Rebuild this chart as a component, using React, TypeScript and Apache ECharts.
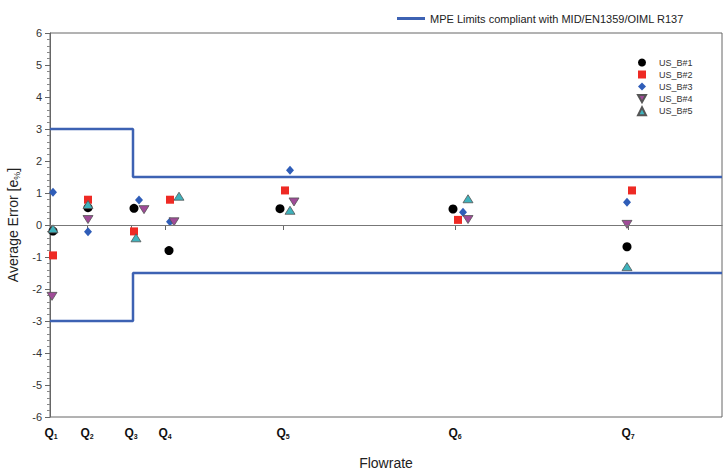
import React, { useEffect, useRef } from "react";
import * as echarts from "echarts";

// Flowrate positions (arbitrary linear units along the x-axis)
const qLabels = ["1", "2", "3", "4", "5", "6", "7"];
const qTicks = [1, 37, 81, 115, 233, 405, 578];

// MPE limit steps (x, y)
const mpeUpperX = [0, 83, 83, 672];
const mpeUpperY = [3, 3, 1.5, 1.5];
const mpeLowerX = [0, 83, 83, 672];
const mpeLowerY = [-3, -3, -1.5, -1.5];

const seriesNames = ["US_B#1", "US_B#2", "US_B#3", "US_B#4", "US_B#5"];

const s1x = [3, 38, 84, 119, 230, 403, 577];
const s1y = [-0.19, 0.54, 0.52, -0.8, 0.51, 0.5, -0.68];
const s2x = [3, 38, 84, 120, 235, 408, 582];
const s2y = [-0.95, 0.79, -0.2, 0.79, 1.08, 0.16, 1.08];
const s3x = [3, 38, 89, 120, 240, 413, 577];
const s3y = [1.02, -0.21, 0.78, 0.1, 1.71, 0.4, 0.71];
const s4x = [2, 38, 94, 124, 244, 418, 577];
const s4y = [-2.23, 0.17, 0.48, 0.1, 0.72, 0.17, 0.02];
const s5x = [3, 38, 86, 129, 240, 418, 577];
const s5y = [-0.12, 0.64, -0.4, 0.9, 0.46, 0.82, -1.3];

const zip = (xs: number[], ys: number[]) => xs.map((x, i) => [x, ys[i]]);

const triDownPath = "path://M0,0 L10,0 L5,9 Z";

export default function App() {
  const ref = useRef<HTMLDivElement>(null);
  useEffect(() => {
    if (!ref.current) return;
    const chart = echarts.init(ref.current, null, { renderer: "svg" });
    const font = "'Liberation Sans', Arial, sans-serif";
    const mpeColor = "#3d62b3";
    const markerBorder = "#555";
    chart.setOption({
      animation: false,
      textStyle: { fontFamily: font },
      grid: {
        left: 50,
        right: 4,
        top: 33,
        bottom: 55,
        show: true,
        borderColor: "#666",
        borderWidth: 1,
        outerBoundsMode: "none",
        containLabel: false,
      },
      legend: [
        {
          data: [{ name: "MPE Limits compliant with MID/EN1359/OIML R137", icon: "rect" }],
          left: 392,
          top: 8,
          itemWidth: 28,
          itemHeight: 3,
          itemGap: 8,
          textStyle: { fontSize: 11, color: "#222", fontFamily: font },
        },
        {
          data: [
            { name: seriesNames[0], icon: "circle" },
            { name: seriesNames[1], icon: "rect" },
            { name: seriesNames[2], icon: "diamond" },
            { name: seriesNames[3], icon: triDownPath },
            { name: seriesNames[4], icon: "triangle" },
          ],
          orient: "vertical",
          left: 632,
          top: 53,
          itemWidth: 8,
          itemHeight: 8,
          itemGap: 3,
          textStyle: { fontSize: 9, color: "#333", fontFamily: font, padding: [0, 0, 0, 8] },
        },
      ],
      xAxis: {
        type: "value",
        min: 0,
        max: 672,
        name: "Flowrate",
        nameLocation: "middle",
        nameGap: 39,
        nameTextStyle: { fontSize: 14, color: "#222", fontFamily: font },
        splitLine: { show: false },
        axisLine: { lineStyle: { color: "#666" } },
        axisTick: {
          show: true,
          customValues: qTicks,
          length: 5,
          lineStyle: { color: "#666" },
        },
        axisLabel: {
          customValues: qTicks,
          margin: 9,
          formatter: (v: number) => {
            const i = qTicks.indexOf(v);
            return i >= 0 ? `{q|Q}{s|${qLabels[i]}}` : "";
          },
          rich: {
            q: { fontSize: 12, fontWeight: "bold", color: "#111", fontFamily: font },
            s: { fontSize: 7, fontWeight: "bold", color: "#111", fontFamily: font, padding: [7, 0, 0, 0] },
          },
        },
      },
      yAxis: {
        type: "value",
        min: -6,
        max: 6,
        interval: 1,
        name: "{t|Average Error [e}{s|%}{t|]}",
        nameLocation: "middle",
        nameGap: 28,
        nameTextStyle: {
          fontFamily: font,
          rich: {
            t: { fontSize: 14, color: "#222", fontFamily: font },
            s: { fontSize: 9, color: "#222", fontFamily: font, padding: [8, 0, 0, 0] },
          },
        },
        splitLine: { show: false },
        axisLine: { show: true, lineStyle: { color: "#666" } },
        axisTick: { show: true, length: 5, lineStyle: { color: "#666" } },
        minorTick: { show: true, splitNumber: 5, length: 3, lineStyle: { color: "#888" } },
        axisLabel: { fontSize: 11, color: "#333", margin: 8, fontFamily: font },
      },
      series: [
        {
          name: "MPE Limits compliant with MID/EN1359/OIML R137",
          type: "line",
          data: zip(mpeUpperX, mpeUpperY),
          symbol: "none",
          lineStyle: { color: mpeColor, width: 2.5 },
          itemStyle: { color: mpeColor },
          z: 1,
          markLine: {
            silent: true,
            symbol: "none",
            label: { show: false },
            lineStyle: { color: "#777", width: 1, type: "solid" },
            data: [{ yAxis: 0 }],
          },
        },
        {
          name: "MPE Limits compliant with MID/EN1359/OIML R137",
          type: "line",
          data: zip(mpeLowerX, mpeLowerY),
          symbol: "none",
          lineStyle: { color: mpeColor, width: 2.5 },
          itemStyle: { color: mpeColor },
          z: 1,
        },
        {
          name: seriesNames[0],
          type: "scatter",
          symbol: "circle",
          symbolSize: 9,
          itemStyle: { color: "#000", opacity: 1 },
          data: zip(s1x, s1y),
          z: 3,
        },
        {
          name: seriesNames[1],
          type: "scatter",
          symbol: "rect",
          symbolSize: 8,
          itemStyle: { color: "#ee2a24", opacity: 1 },
          data: zip(s2x, s2y),
          z: 3,
        },
        {
          name: seriesNames[2],
          type: "scatter",
          symbol: "diamond",
          symbolSize: [8, 9],
          itemStyle: { color: "#2f5db8", opacity: 1 },
          data: zip(s3x, s3y),
          z: 3,
        },
        {
          name: seriesNames[3],
          type: "scatter",
          symbol: "triangle",
          symbolRotate: 180,
          symbolSize: [10, 8],
          itemStyle: { color: "#a04b98", borderColor: markerBorder, borderWidth: 0.8, opacity: 1 },
          data: zip(s4x, s4y),
          z: 3,
        },
        {
          name: seriesNames[4],
          type: "scatter",
          symbol: "triangle",
          symbolSize: [10, 8],
          itemStyle: { color: "#3fb3bd", borderColor: markerBorder, borderWidth: 0.8, opacity: 1 },
          data: zip(s5x, s5y),
          z: 3,
        },
      ],
    });
    return () => chart.dispose();
  }, []);
  return (
    <div
      ref={ref}
      style={{ position: "fixed", left: 0, top: 0, width: 726, height: 472, background: "#fff" }}
    />
  );
}
